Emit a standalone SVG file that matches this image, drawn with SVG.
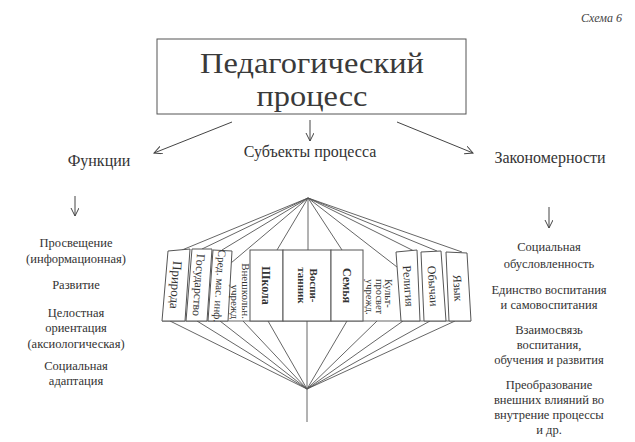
<svg xmlns="http://www.w3.org/2000/svg" width="635" height="442" viewBox="0 0 635 442" font-family="'Liberation Serif', 'DejaVu Serif', serif">
<defs>
<marker id="ah" markerWidth="10" markerHeight="10" refX="8" refY="4" orient="auto" markerUnits="userSpaceOnUse">
<path d="M0,0 L8,4 L0,8" fill="none" stroke="#444" stroke-width="1"/>
</marker>
<style>
text{font-family:'Liberation Serif','DejaVu Serif',serif;fill:#333}
.c{text-anchor:middle}
.col{font-size:12.5px;text-anchor:middle}
.hd{font-size:16px;text-anchor:middle}
.p{font-size:12px;text-anchor:middle}
.b{font-weight:bold}
.ln{stroke:#555;stroke-width:0.9;fill:none}
.box{stroke:#555;stroke-width:1;fill:#fff}
.arr{stroke:#444;stroke-width:1;fill:none;marker-end:url(#ah)}
.t{font-size:30px;text-anchor:middle;fill:#3a3a3a}
</style>
</defs>
<rect width="635" height="442" fill="#fff"/>
<text x="622" y="22" style="font-size:12px;font-style:italic;text-anchor:end;fill:#444">Схема 6</text>

<g id="root">
<rect class="box" x="157" y="39" width="309" height="75"/>
<g transform="translate(312,0) scale(1.08,1) translate(-312,0)">
<text class="t" x="312" y="73">Педагогический</text>
<text class="t" x="312" y="106.5">процесс</text>
</g>
</g>

<g id="connectors">
<line class="arr" x1="232" y1="122" x2="154" y2="153"/>
<line class="arr" x1="310" y1="120" x2="310" y2="141"/>
<line class="arr" x1="397" y1="122" x2="473" y2="153"/>
<line class="arr" x1="75" y1="196" x2="75" y2="216"/>
<line class="arr" x1="549" y1="207" x2="549" y2="228"/>
<g class="ln">
<line x1="308" y1="198" x2="182" y2="250"/>
<line x1="308" y1="198" x2="202" y2="249"/>
<line x1="308" y1="198" x2="222" y2="250"/>
<line x1="308" y1="198" x2="231" y2="263"/>
<line x1="308" y1="198" x2="277" y2="250"/>
<line x1="308" y1="198" x2="308" y2="250"/>
<line x1="308" y1="198" x2="342" y2="250"/>
<line x1="308" y1="198" x2="397" y2="267"/>
<line x1="308" y1="198" x2="414" y2="251"/>
<line x1="308" y1="198" x2="437" y2="251"/>
<line x1="308" y1="198" x2="462" y2="252"/>
<line x1="307" y1="389" x2="170" y2="321"/>
<line x1="307" y1="389" x2="197" y2="321"/>
<line x1="307" y1="389" x2="220" y2="321"/>
<line x1="307" y1="389" x2="243" y2="321"/>
<line x1="307" y1="389" x2="268" y2="321"/>
<line x1="307" y1="321" x2="307" y2="422"/>
<line x1="307" y1="389" x2="347" y2="321"/>
<line x1="307" y1="389" x2="377" y2="321"/>
<line x1="307" y1="389" x2="403" y2="321"/>
<line x1="307" y1="389" x2="430" y2="321"/>
<line x1="307" y1="389" x2="455" y2="321"/>
</g>
</g>

<g id="functions">
<text x="99" y="166" class="hd">Функции</text>
<text class="col" x="76"><tspan x="76" y="247">Просвещение</tspan><tspan x="76" y="263">(информационная)</tspan><tspan x="76" y="289">Развитие</tspan><tspan x="76" y="317">Целостная</tspan><tspan x="76" y="332">ориентация</tspan><tspan x="76" y="348">(аксиологическая)</tspan><tspan x="76" y="370">Социальная</tspan><tspan x="76" y="385">адаптация</tspan></text>
</g>

<g id="subjects">
<text x="310" y="157" class="hd">Субъекты процесса</text>
</g>

<g id="laws">
<text x="550" y="163" class="hd">Закономерности</text>
<text class="col" x="549"><tspan x="549" y="251">Социальная</tspan><tspan x="549" y="268">обусловленность</tspan><tspan x="549" y="294">Единство воспитания</tspan><tspan x="549" y="309">и самовоспитания</tspan><tspan x="549" y="334">Взаимосвязь</tspan><tspan x="549" y="349">воспитания,</tspan><tspan x="549" y="364">обучения и развития</tspan><tspan x="549" y="389">Преобразование</tspan><tspan x="549" y="404">внешних влияний во</tspan><tspan x="549" y="419">внутрение процессы</tspan><tspan x="549" y="434">и др.</tspan></text>
</g>

<g id="panels">
<line class="ln" x1="162" y1="321" x2="471" y2="321"/>
<g id="n-priroda"><polygon class="box" points="168,251 190,249 185,321 162,321"/>
<text class="p" transform="translate(176,285) rotate(94)" y="4.5" style="font-size:13px">Природа</text></g>
<g id="n-gos"><polygon class="box" points="192,249 212,249 207,321 186,321"/>
<text class="p" transform="translate(199,285) rotate(94)" y="4.2">Государство</text></g>
<g id="n-smi"><polygon class="box" points="213,250 232,251 228,321 208,321"/>
<text class="p" transform="translate(220,286) rotate(94)" y="4" style="font-size:11px">Сред. мас. инф.</text></g>
<g id="n-vneshk">
<text transform="translate(240,319) rotate(90)" style="font-size:11px;text-anchor:end"><tspan x="0" y="-1.5">Внешкольн.</tspan><tspan x="0" y="9">учрежд</tspan></text></g>
<g id="n-shkola"><rect class="box" x="250" y="250" width="33" height="71"/>
<text class="p b" transform="translate(266.5,285.5) rotate(90)" y="4.2">Школа</text></g>
<g id="n-vosp"><rect class="box" x="283" y="250" width="48" height="71"/>
<text class="p b" transform="translate(307.5,285.5) rotate(90)" style="font-size:11px"><tspan x="0" y="-2">Воспи-</tspan><tspan x="0" y="9.5">танник</tspan></text></g>
<g id="n-semya"><rect class="box" x="331" y="250" width="32" height="71"/>
<text class="p b" transform="translate(347,285.5) rotate(90)" y="4.2">Семья</text></g>
<g id="n-kult">
<text transform="translate(379,279) rotate(90)" style="font-size:10.5px;text-anchor:start"><tspan x="0" y="-6">Культ-</tspan><tspan x="0" y="3.5">просвет</tspan><tspan x="0" y="13">учрежд.</tspan></text></g>
<g id="n-religia"><polygon class="box" points="396,252 417,250 420,321 401,321"/>
<text class="p" transform="translate(408.5,286) rotate(86)" y="4.2">Религия</text></g>
<g id="n-obychai"><polygon class="box" points="421,252 441,251 446,321 424,321"/>
<text class="p" transform="translate(433,286) rotate(86)" y="4.2">Обычаи</text></g>
<g id="n-yazyk"><polygon class="box" points="446,252 467,253 471,321 449,321"/>
<text class="p" transform="translate(458,288) rotate(86)" y="4.2">Язык</text></g>
</g>
</svg>
